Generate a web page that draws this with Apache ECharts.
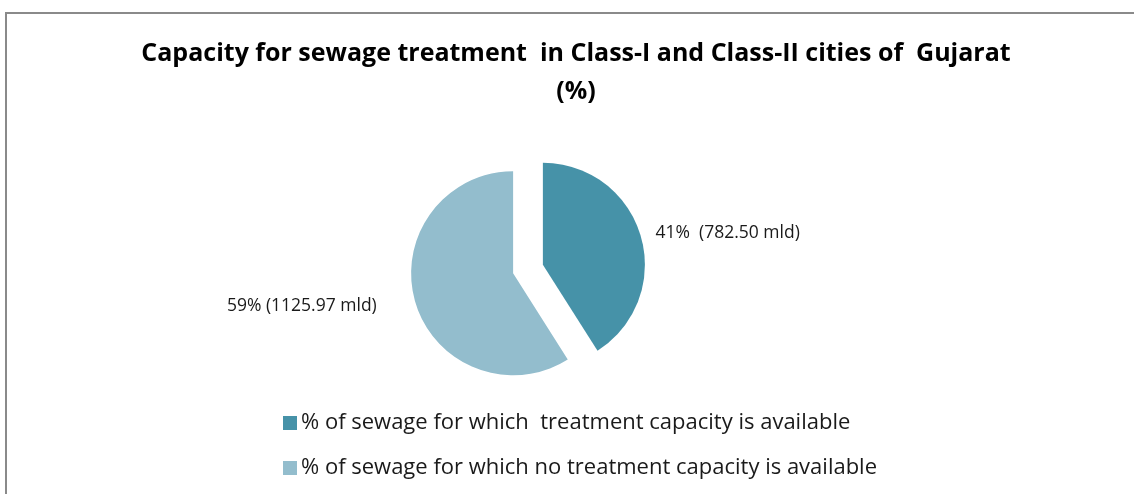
<!DOCTYPE html>
<html>
<head>
<meta charset="utf-8">
<script src="https://cdn.jsdelivr.net/npm/echarts@6/dist/echarts.min.js"></script>
<style>
  html, body { margin: 0; padding: 0; background: #fff; }
  #wrap { position: relative; width: 1134px; height: 494px; overflow: hidden; }
  /* chart frame: only top and left edges show in the picture */
  #frame { position: absolute; left: 5px; top: 12px; width: 1140px; height: 500px;
           border-top: 2px solid #8a8a8a; border-left: 2px solid #8a8a8a; }
  #myChart { position: absolute; left: 0; top: 0; width: 1134px; height: 494px; }
</style>
</head>
<body>
<div id="wrap">
  <div id="frame"></div>
  <div id="myChart"></div>
</div>
<script>
  // data
  var titleText = 'Capacity for sewage treatment  in Class-I and Class-II cities of  Gujarat\n(%)';
  var categories = [
    '% of sewage for which  treatment capacity is available',
    '% of sewage for which no treatment capacity is available'
  ];
  var percents = [41, 59];
  var volumes = ['782.50', '1125.97'];
  var labelTexts = ['41%  (782.50 mld)', '59% (1125.97 mld)'];
  var colors = ['#4692a8', '#93bdcd'];

  var myChart = echarts.init(document.getElementById('myChart'));

  var seriesData = [];
  for (var i = 0; i < categories.length; i++) {
    seriesData.push({
      name: categories[i],
      value: percents[i],
      selected: true,
      itemStyle: { color: colors[i] },
      labelLine: { show: false, length: i === 0 ? 10 : 15, length2: i === 0 ? 0 : 19 }
    });
  }

  var option = {
    backgroundColor: 'transparent',
    animation: false,
    title: {
      text: titleText,
      left: 571,
      top: 30,
      textAlign: 'center',
      textStyle: {
        fontFamily: 'Open Sans',
        fontWeight: 'bold',
        fontSize: 25,
        lineHeight: 38,
        color: '#000'
      }
    },
    legend: {
      orient: 'vertical',
      left: 278,
      top: 406,
      itemWidth: 14,
      itemHeight: 14,
      itemGap: 21,
      icon: 'rect',
      data: categories,
      textStyle: {
        fontFamily: 'Open Sans',
        fontSize: 22,
        lineHeight: 24,
        color: '#1a1a1a',
        padding: [0, 0, 0, -1]
      }
    },
    series: [{
      type: 'pie',
      center: [528, 269],
      radius: 102,
      startAngle: 90,
      clockwise: true,
      selectedMode: 'multiple',
      selectedOffset: 15.5,
      emphasis: { disabled: true },
      avoidLabelOverlap: false,
      label: {
        show: true,
        position: 'outside',
        fontFamily: 'Open Sans',
        fontSize: 17.5,
        color: '#1a1a1a',
        formatter: function (p) { return labelTexts[p.dataIndex]; }
      },
      data: seriesData
    }]
  };
  myChart.setOption(option);
</script>
</body>
</html>
